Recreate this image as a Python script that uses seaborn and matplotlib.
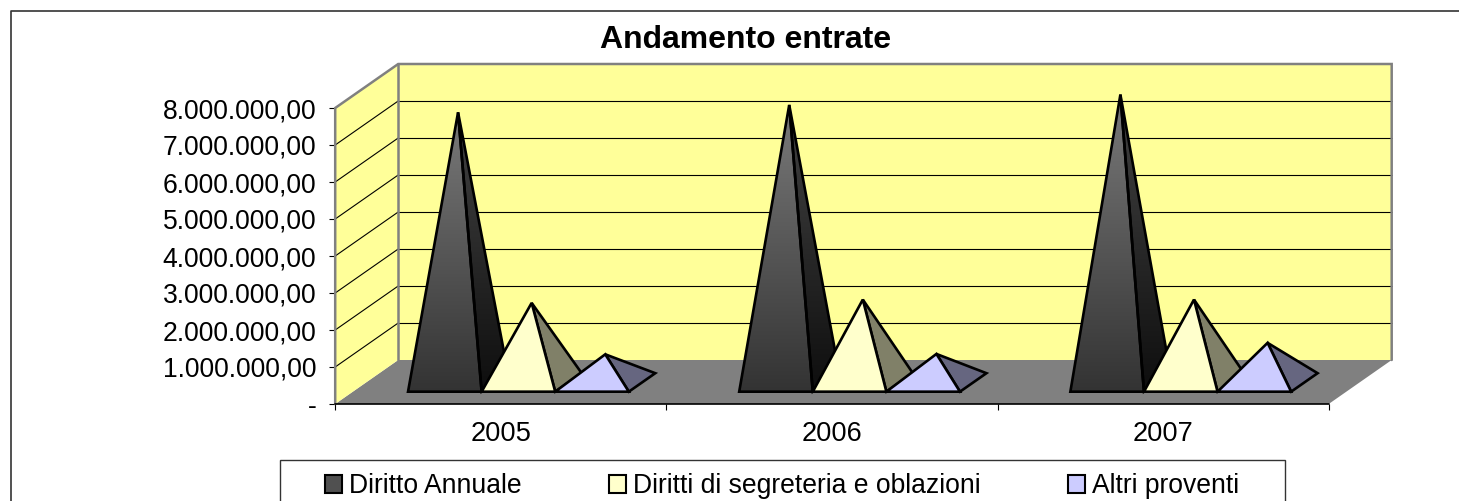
import numpy as np
import pandas as pd
import matplotlib
matplotlib.use("Agg")
import matplotlib.pyplot as plt
import seaborn as sns
from matplotlib.colors import LinearSegmentedColormap
from matplotlib.lines import Line2D
from matplotlib.patches import Patch, Polygon, Rectangle

years = ["2005", "2006", "2007"]
series_names = ["Diritto Annuale", "Diritti di segreteria e oblazioni", "Altri proventi"]
diritto_annuale = [7300000, 7500000, 7780000]
diritti_segreteria = [2150000, 2240000, 2240000]
altri_proventi = [760000, 770000, 1070000]
y_values = [0, 1000000, 2000000, 3000000, 4000000, 5000000, 6000000, 7000000, 8000000]
y_labels = ["-", "1.000.000,00", "2.000.000,00", "3.000.000,00", "4.000.000,00",
            "5.000.000,00", "6.000.000,00", "7.000.000,00", "8.000.000,00"]

W, H = 1459, 501
# oblique depth of the Excel-like 3D box
DX = 63 / 331.17
DY = 44 / 37 * 1e6
BASE_FRONT, BASE_BACK = 0.28, 0.70

front_cols = ["#333333", "#FFFFCC", "#CCCCFF"]
side_cols = ["#222222", "#808068", "#666680"]

sns.set_theme(style="white")
plt.rcParams["font.family"] = ["Liberation Sans", "DejaVu Sans"]


def proj(x, v, d):
    return x + d * DX, v + d * DY


def gradient_face(ax, pts, low, high, z):
    poly = Polygon(pts, closed=True, transform=ax.transData)
    xs, ys = zip(*pts)
    cmap = LinearSegmentedColormap.from_list("g", [low, high])
    im = ax.imshow(np.linspace(0, 1, 256).reshape(-1, 1), cmap=cmap, origin="lower", aspect="auto",
                   extent=(min(xs), max(xs), min(ys), max(ys)), zorder=z)
    im.set_clip_path(poly)
    im.set_clip_box(ax.figure.bbox)


def pyramid(ax, x0, width, value, idx):
    z = 5 + idx
    fl = proj(x0, 0, BASE_FRONT)
    fr = proj(x0 + width, 0, BASE_FRONT)
    br = proj(x0 + width, 0, BASE_BACK)
    cx, cy = proj(x0 + width / 2, 0, (BASE_FRONT + BASE_BACK) / 2)
    apex = (cx, cy + value)
    if idx == 0:
        gradient_face(ax, [fr, br, apex], "#0e0e0e", "#444444", z)
        gradient_face(ax, [fl, fr, apex], "#333333", "#7a7a7a", z)
        side_fc = front_fc = "none"
    else:
        side_fc, front_fc = side_cols[idx], front_cols[idx]
    for pts, fc in [([fr, br, apex], side_fc), ([fl, fr, apex], front_fc)]:
        ax.add_patch(Polygon(pts, closed=True, facecolor=fc, edgecolor="black", lw=1.9,
                             joinstyle="miter", clip_on=False, zorder=z))


df = pd.DataFrame({
    "anno": years * 3,
    "voce": np.repeat(series_names, 3),
    "valore": diritto_annuale + diritti_segreteria + altri_proventi,
})

fig = plt.figure(figsize=(W / 100, H / 100), dpi=100)
ax = fig.add_axes([335.2 / W, (H - 404) / H, 993.5 / W, 296 / H])

sns.barplot(data=df, x="anno", y="valore", hue="voce", hue_order=series_names,
            width=2 / 3, gap=0, errorbar=None, legend=False, ax=ax)

# seaborn gives the bar geometry, each bar is then redrawn as a pyramid
bars = [(i, b.get_x(), b.get_width(), b.get_height())
        for i, c in enumerate(ax.containers) for b in c]
for c in ax.containers:
    for b in c:
        b.set_visible(False)

x_lo, x_hi = -0.5, 2.5
y_top = y_values[-1]

# floor and walls
ax.add_patch(Polygon([proj(x_lo, 0, 0), proj(x_hi, 0, 0), proj(x_hi, 0, 1), proj(x_lo, 0, 1)],
                     facecolor="#808080", edgecolor="none", clip_on=False, zorder=1))
ax.add_patch(Polygon([proj(x_lo, 0, 0), proj(x_lo, 0, 1), proj(x_lo, y_top, 1), proj(x_lo, y_top, 0)],
                     facecolor="#FFFF99", edgecolor="none", clip_on=False, zorder=1))
ax.add_patch(Polygon([proj(x_lo, 0, 1), proj(x_hi, 0, 1), proj(x_hi, y_top, 1), proj(x_lo, y_top, 1)],
                     facecolor="#FFFF99", edgecolor="none", clip_on=False, zorder=1))

# gridlines on side and back wall
for v in y_values[1:-1]:
    ax.plot(*zip(proj(x_lo, v, 0), proj(x_lo, v, 1)), color="black", lw=0.8, clip_on=False, zorder=2)
    ax.plot(*zip(proj(x_lo, v, 1), proj(x_hi, v, 1)), color="black", lw=0.8, clip_on=False, zorder=2)

# wall outline
wall = [proj(x_lo, 0, 0), proj(x_lo, y_top, 0), proj(x_lo, y_top, 1), proj(x_hi, y_top, 1), proj(x_hi, 0, 1)]
ax.plot(*zip(*wall), color="#808080", lw=1.8, clip_on=False, zorder=3, solid_joinstyle="miter")
ax.plot(*zip(proj(x_lo, 0, 1), proj(x_lo, y_top, 1)), color="#808080", lw=1.8, clip_on=False, zorder=3)
ax.plot(*zip(proj(x_lo, 0, 0), proj(x_hi, 0, 0)), color="black", lw=1.2, clip_on=False, zorder=4)

for idx, x0, width, value in bars:
    pyramid(ax, x0, width, value, idx)

ax.set_xlim(x_lo, x_hi)
ax.set_ylim(0, y_top)
sns.despine(ax=ax, left=True, bottom=True, top=True, right=True)
ax.grid(False)
ax.patch.set_visible(False)
ax.set_xlabel("")
ax.set_ylabel("")

ax.set_yticks(y_values, y_labels, fontsize=19.1, color="black")
ax.tick_params(axis="y", length=4, width=0.8, color="black", pad=9.5, left=True)
ax.set_xticks(range(len(years)), years, fontsize=19.6, color="black")
ax.set_xticks([-0.5, 0.5, 1.5, 2.5], minor=True)
ax.tick_params(axis="x", which="major", length=0, pad=12)
ax.tick_params(axis="x", which="minor", length=4.5, width=0.8, color="black", bottom=True)

fig.text(746 / W, 1 - 39.5 / H, "Andamento entrate", ha="center", va="center",
         fontsize=23, fontweight="bold", color="black")

# outer chart frame, cut by the image on the right and bottom
fig.add_artist(Line2D([10.5 / W, 10.5 / W, 1], [0, 1 - 10.5 / H, 1 - 10.5 / H],
                      color="#333333", lw=1.2, transform=fig.transFigure))

# legend box runs past the bottom of the image
fig.add_artist(Rectangle((280 / W, -0.1), 1005 / W, 0.1 + 1 - 459.5 / H, transform=fig.transFigure,
                         facecolor="white", edgecolor="#333333", lw=1.0))

handles = [Patch(facecolor=c, edgecolor="black", lw=1.5) for c in ["#505050", "#FFFFCC", "#CCCCFF"]]
leg = fig.legend(handles, series_names, ncol=3, loc="upper left",
                 bbox_to_anchor=(325 / W, 1 - 473 / H), borderaxespad=0, fancybox=False,
                 frameon=False, fontsize=19.1, labelcolor="black",
                 handlelength=0.65, handleheight=0.65, handletextpad=0.25,
                 columnspacing=3.3, borderpad=0)

fig.savefig("out.png", dpi=100)
